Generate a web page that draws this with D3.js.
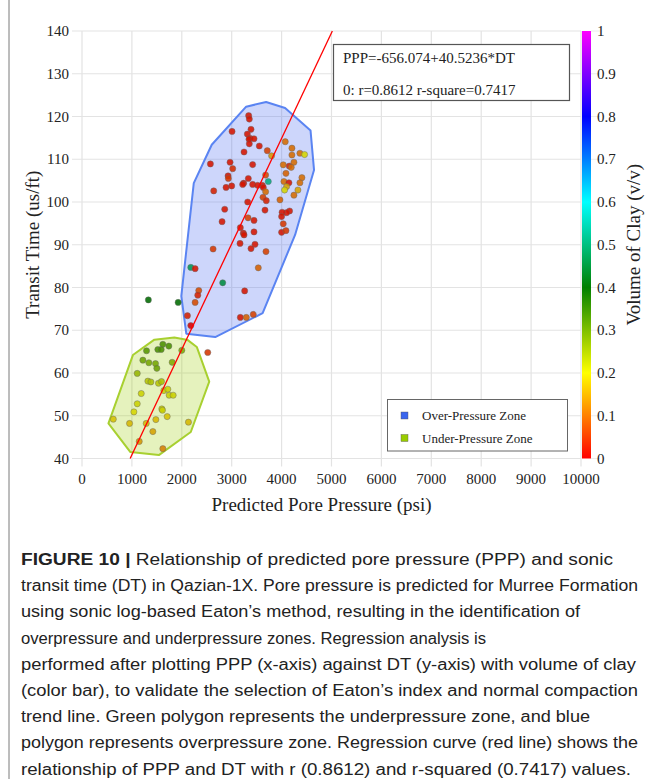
<!DOCTYPE html>
<html><head><meta charset="utf-8">
<script src="https://cdn.jsdelivr.net/npm/d3@7/dist/d3.min.js"></script>
<style>body{margin:0;background:#fff;}svg{display:block;}</style>
</head><body>
<svg id="c" width="652" height="779"></svg>
<script>
// ---- data ----
const xTicks = [0,1000,2000,3000,4000,5000,6000,7000,8000,9000,10000];
const yTicks = [40,50,60,70,80,90,100,110,120,130,140];
const cbTicks = [0,0.1,0.2,0.3,0.4,0.5,0.6,0.7,0.8,0.9,1];
const colorStops = [0,0.2,0.4,0.6,0.8,1];
const colorRange = ["#ff0000","#ffff00","#008000","#00ffff","#0000ff","#ff00ff"];
const regIntercept = -656.074, regSlope = 40.5236;
const eqLines = ["PPP=-656.074+40.5236*DT","0: r=0.8612 r-square=0.7417"];
const legendItems = [["Over-Pressure Zone","#3a66ee"],["Under-Pressure Zone","#99cc00"]];
// predicted pore pressure (psi)
const ppp = [3340,3353,3007,3387,3313,3367,3347,3447,3353,3553,3247,3713,4073,3800,4207,4207,4367,4460,2573,2967,
 3020,3420,4033,4153,4247,4193,4087,3680,2927,2933,3733,3240,3220,3333,2887,3000,3420,3520,3613,4407,
 4367,4047,4147,4100,4060,4327,4247,2640,3633,3680,3627,3693,3967,3320,3667,2860,4160,4100,4010,4000,
 3327,3447,4033,4000,4087,2807,3173,3233,3247,3447,3167,3467,3387,3687,2627,2180,2267,2820,3533,3260,
 2340,2320,2267,1927,2113,2180,3173,3293,3433,1330,2520,
 1620,1740,1520,1587,1293,2000,1220,1340,1473,1500,1807,1107,1320,1380,1533,1593,1640,1720,1747,1827,
 1187,1107,1600,1612,1040,1707,627,953,1287,1480,2133,1420,1147,1620];
// transit time (us/ft)
const dt = [120.2,119.4,116.5,117.0,115.9,114.9,114.7,114.8,113.6,113.1,111.7,112.0,114.1,110.8,112.6,111.0,111.4,111.1,108.9,109.3,
 107.8,108.75,108.7,108.4,109.3,108.1,106.7,106.3,106.1,105.5,104.8,104.4,104.1,105.5,103.4,103.75,104.1,103.9,103.9,105.7,
 104.5,104.8,104.5,103.6,102.8,102.8,101.6,102.6,103.4,102.4,101.1,100.3,100.5,100.0,98.1,98.3,97.9,97.5,97.6,96.6,
 96.3,95.7,94.9,92.9,93.3,95.4,94.0,92.7,92.3,93.0,90.3,90.1,89.1,88.4,89.0,84.7,84.4,81.1,84.6,79.2,
 79.3,78.2,76.5,76.5,73.4,71.1,73.0,73.0,73.7,77.1,64.8,
 66.7,66.3,65.5,65.5,65.2,65.3,63.0,62.4,62.2,61.1,62.5,59.9,58.1,57.9,57.6,58.0,55.9,56.2,54.8,54.8,
 55.2,52.8,51.6,51.3,50.9,49.8,49.2,48.2,48.2,49.1,48.5,46.3,44.0,42.3];
// volume of clay (v/v)
const vcl = [0.02,0.02,0.02,0.02,0.02,0.02,0.02,0.02,0.02,0.02,0.02,0.06,0.1,0.14,0.1,0.1,0.1,0.2,0.02,0.02,
 0.04,0.02,0.1,0.03,0.1,0.1,0.09,0.07,0.02,0.05,0.52,0.02,0.02,0.02,0.02,0.02,0.02,0.02,0.02,0.1,
 0.1,0.1,0.02,0.15,0.2,0.15,0.1,0.03,0.02,0.1,0.06,0.03,0.09,0.02,0.02,0.02,0.02,0.02,0.02,0.02,
 0.06,0.02,0.05,0.02,0.05,0.02,0.02,0.02,0.02,0.02,0.02,0.02,0.02,0.06,0.05,0.48,0.02,0.46,0.09,0.02,
 0.07,0.03,0.07,0.4,0.03,0.0,0.02,0.09,0.06,0.4,0.05,
 0.33,0.33,0.33,0.33,0.32,0.28,0.3,0.29,0.29,0.3,0.28,0.26,0.23,0.24,0.23,0.24,0.21,0.21,0.21,0.21,
 0.21,0.21,0.21,0.21,0.2,0.18,0.18,0.17,0.17,0.17,0.17,0.15,0.14,0.12];
// zone polygons (PPP, DT)
const overZone = [[3290,122.3],[3690,123.4],[4070,122.0],[4580,116.7],[4650,107.5],[4270,92.3],[3620,74.0],[2670,68.4],[2090,69.2],[1990,78.0],[2240,104.4],[2600,113.4]];
const underZone = [[530,48.2],[1020,64.2],[1450,67.8],[1850,68.3],[2120,67.7],[2300,66.1],[2550,58.0],[2180,46.2],[1540,40.8],[970,41.5]];
const captionLines = [
 "Relationship of predicted pore pressure (PPP) and sonic",
 "transit time (DT) in Qazian-1X. Pore pressure is predicted for Murree Formation",
 "using sonic log-based Eaton\u2019s method, resulting in the identification of",
 "overpressure and underpressure zones. Regression analysis is",
 "performed after plotting PPP (x-axis) against DT (y-axis) with volume of clay",
 "(color bar), to validate the selection of Eaton\u2019s index and normal compaction",
 "trend line. Green polygon represents the underpressure zone, and blue",
 "polygon represents overpressure zone. Regression curve (red line) shows the",
 "relationship of PPP and DT with r (0.8612) and r-squared (0.7417) values."];
const captionWidths = [592,617,559,465,615,617,569,617,610];

// ---- drawing ----
const svg = d3.select("#c");
const serif = "'Liberation Serif','DejaVu Serif',serif";
const L=82, R=581, T=31, B=458.5;
const x = d3.scaleLinear().domain([0,10000]).range([L,R]);
const y = d3.scaleLinear().domain([40,140]).range([B,T]);
const color = d3.scaleLinear().domain(colorStops).range(colorRange);

svg.append("line").attr("x1",9).attr("x2",9).attr("y1",0).attr("y2",779).attr("stroke","#7a7a7a").attr("stroke-width",1);

const g = svg.append("g");
// grid
g.selectAll(".vg").data(xTicks).join("line")
 .attr("x1",d=>x(d)).attr("x2",d=>x(d)).attr("y1",T).attr("y2",B+8)
 .attr("stroke","#e3e3e3").attr("stroke-width",1.2);
g.selectAll(".hg").data(yTicks).join("line")
 .attr("x1",L-10).attr("x2",R).attr("y1",d=>y(d)).attr("y2",d=>y(d))
 .attr("stroke","#e3e3e3").attr("stroke-width",1.2);
// tick labels
g.selectAll(".xl").data(xTicks).join("text")
 .attr("x",d=>x(d)).attr("y",B+25).attr("text-anchor","middle")
 .attr("font-family",serif).attr("font-size",15).attr("fill","#222").text(d=>d);
g.selectAll(".yl").data(yTicks).join("text")
 .attr("x",L-13).attr("y",d=>y(d)+5).attr("text-anchor","end")
 .attr("font-family",serif).attr("font-size",15).attr("fill","#222").text(d=>d);
// axis titles
g.append("text").attr("x",(L+R)/2-10).attr("y",511).attr("text-anchor","middle")
 .attr("font-family",serif).attr("font-size",19).attr("fill","#222").text("Predicted Pore Pressure (psi)");
g.append("text").attr("transform",`translate(39,${(T+B)/2}) rotate(-90)`).attr("text-anchor","middle")
 .attr("font-family",serif).attr("font-size",19).attr("fill","#222").text("Transit Time (us/ft)");

// polygons
const line = d3.line().x(d=>x(d[0])).y(d=>y(d[1])).curve(d3.curveLinearClosed);
g.append("path").attr("d",line(overZone)).attr("fill","#4a6cf0").attr("fill-opacity",0.28)
 .attr("stroke","#5a84f2").attr("stroke-width",2).attr("stroke-linejoin","round");
g.append("path").attr("d",line(underZone)).attr("fill","#99cc00").attr("fill-opacity",0.26)
 .attr("stroke","#a8d030").attr("stroke-width",2).attr("stroke-linejoin","round");

// points
const pts = ppp.map((p,i)=>({p, t:dt[i], v:vcl[i]}));
g.selectAll(".pt").data(pts).join("circle")
 .attr("cx",d=>x(d.p)).attr("cy",d=>y(d.t)).attr("r",3.1)
 .attr("fill",d=>d3.color(color(d.v)).darker(0.5)).attr("fill-opacity",0.88)
 .attr("stroke","#666").attr("stroke-opacity",0.55).attr("stroke-width",0.8);

// regression line
const dtEnds = [40,140];
g.append("line")
 .attr("x1",x(regIntercept+regSlope*dtEnds[0])).attr("y1",y(dtEnds[0]))
 .attr("x2",x(regIntercept+regSlope*dtEnds[1])).attr("y2",y(dtEnds[1]))
 .attr("stroke","#ff0000").attr("stroke-width",1.3);

// equation box
g.append("rect").attr("x",333.5).attr("y",44.5).attr("width",236).attr("height",56)
 .attr("fill","#fff").attr("stroke","#555").attr("stroke-width",1.2);
g.selectAll(".eq").data(eqLines).join("text")
 .attr("x",343).attr("y",(d,i)=>63+i*32).attr("font-family",serif).attr("font-size",15).attr("fill","#222").text(d=>d);

// legend
g.append("rect").attr("x",387.5).attr("y",399.5).attr("width",180).attr("height",51.5)
 .attr("fill","#fff").attr("stroke","#666").attr("stroke-width",1);
const lg = g.selectAll(".lg").data(legendItems).join("g").attr("transform",(d,i)=>`translate(401,${412+i*22.5})`);
lg.append("rect").attr("width",7).attr("height",7).attr("fill",d=>d[1]).attr("stroke","#555").attr("stroke-width",0.4);
lg.append("text").attr("x",21).attr("y",8).attr("font-family",serif).attr("font-size",13).attr("fill","#222").text(d=>d[0]);

// color bar
const defs = svg.append("defs");
const grad = defs.append("linearGradient").attr("id","cb").attr("x1",0).attr("x2",0).attr("y1",1).attr("y2",0);
grad.selectAll("stop").data(d3.range(0,1.0001,0.02)).join("stop")
 .attr("offset",d=>d).attr("stop-color",d=>color(d));
const cy = d3.scaleLinear().domain([0,1]).range([B,T]);
g.append("rect").attr("x",582).attr("y",T).attr("width",9).attr("height",B-T).attr("fill","url(#cb)");
g.selectAll(".cbt").data(cbTicks).join("line")
 .attr("x1",591).attr("x2",600).attr("y1",d=>cy(d)).attr("y2",d=>cy(d)).attr("stroke","#ececec");
g.selectAll(".cbl").data(cbTicks).join("text")
 .attr("x",597).attr("y",d=>cy(d)+5).attr("font-family",serif).attr("font-size",15).attr("fill","#222").text(d=>d);
g.append("text").attr("transform",`translate(640,${(T+B)/2}) rotate(-90)`).attr("text-anchor","middle")
 .attr("font-family",serif).attr("font-size",19).attr("fill","#222").text("Volume of Clay (v/v)");

// caption
const cap = svg.append("g");
captionLines.forEach((s,i)=>{
  const t = cap.append("text").attr("x",21).attr("y",565+i*26.2)
    .attr("font-family","'Liberation Sans',Arial,sans-serif").attr("font-size",16).attr("fill","#222")
    .attr("textLength",captionWidths[i]).attr("lengthAdjust","spacingAndGlyphs");
  if(i===0){
    t.append("tspan").attr("font-weight","bold").text("FIGURE 10 | ");
    t.append("tspan").text(s);
  } else t.text(s);
});
</script>
</body></html>
